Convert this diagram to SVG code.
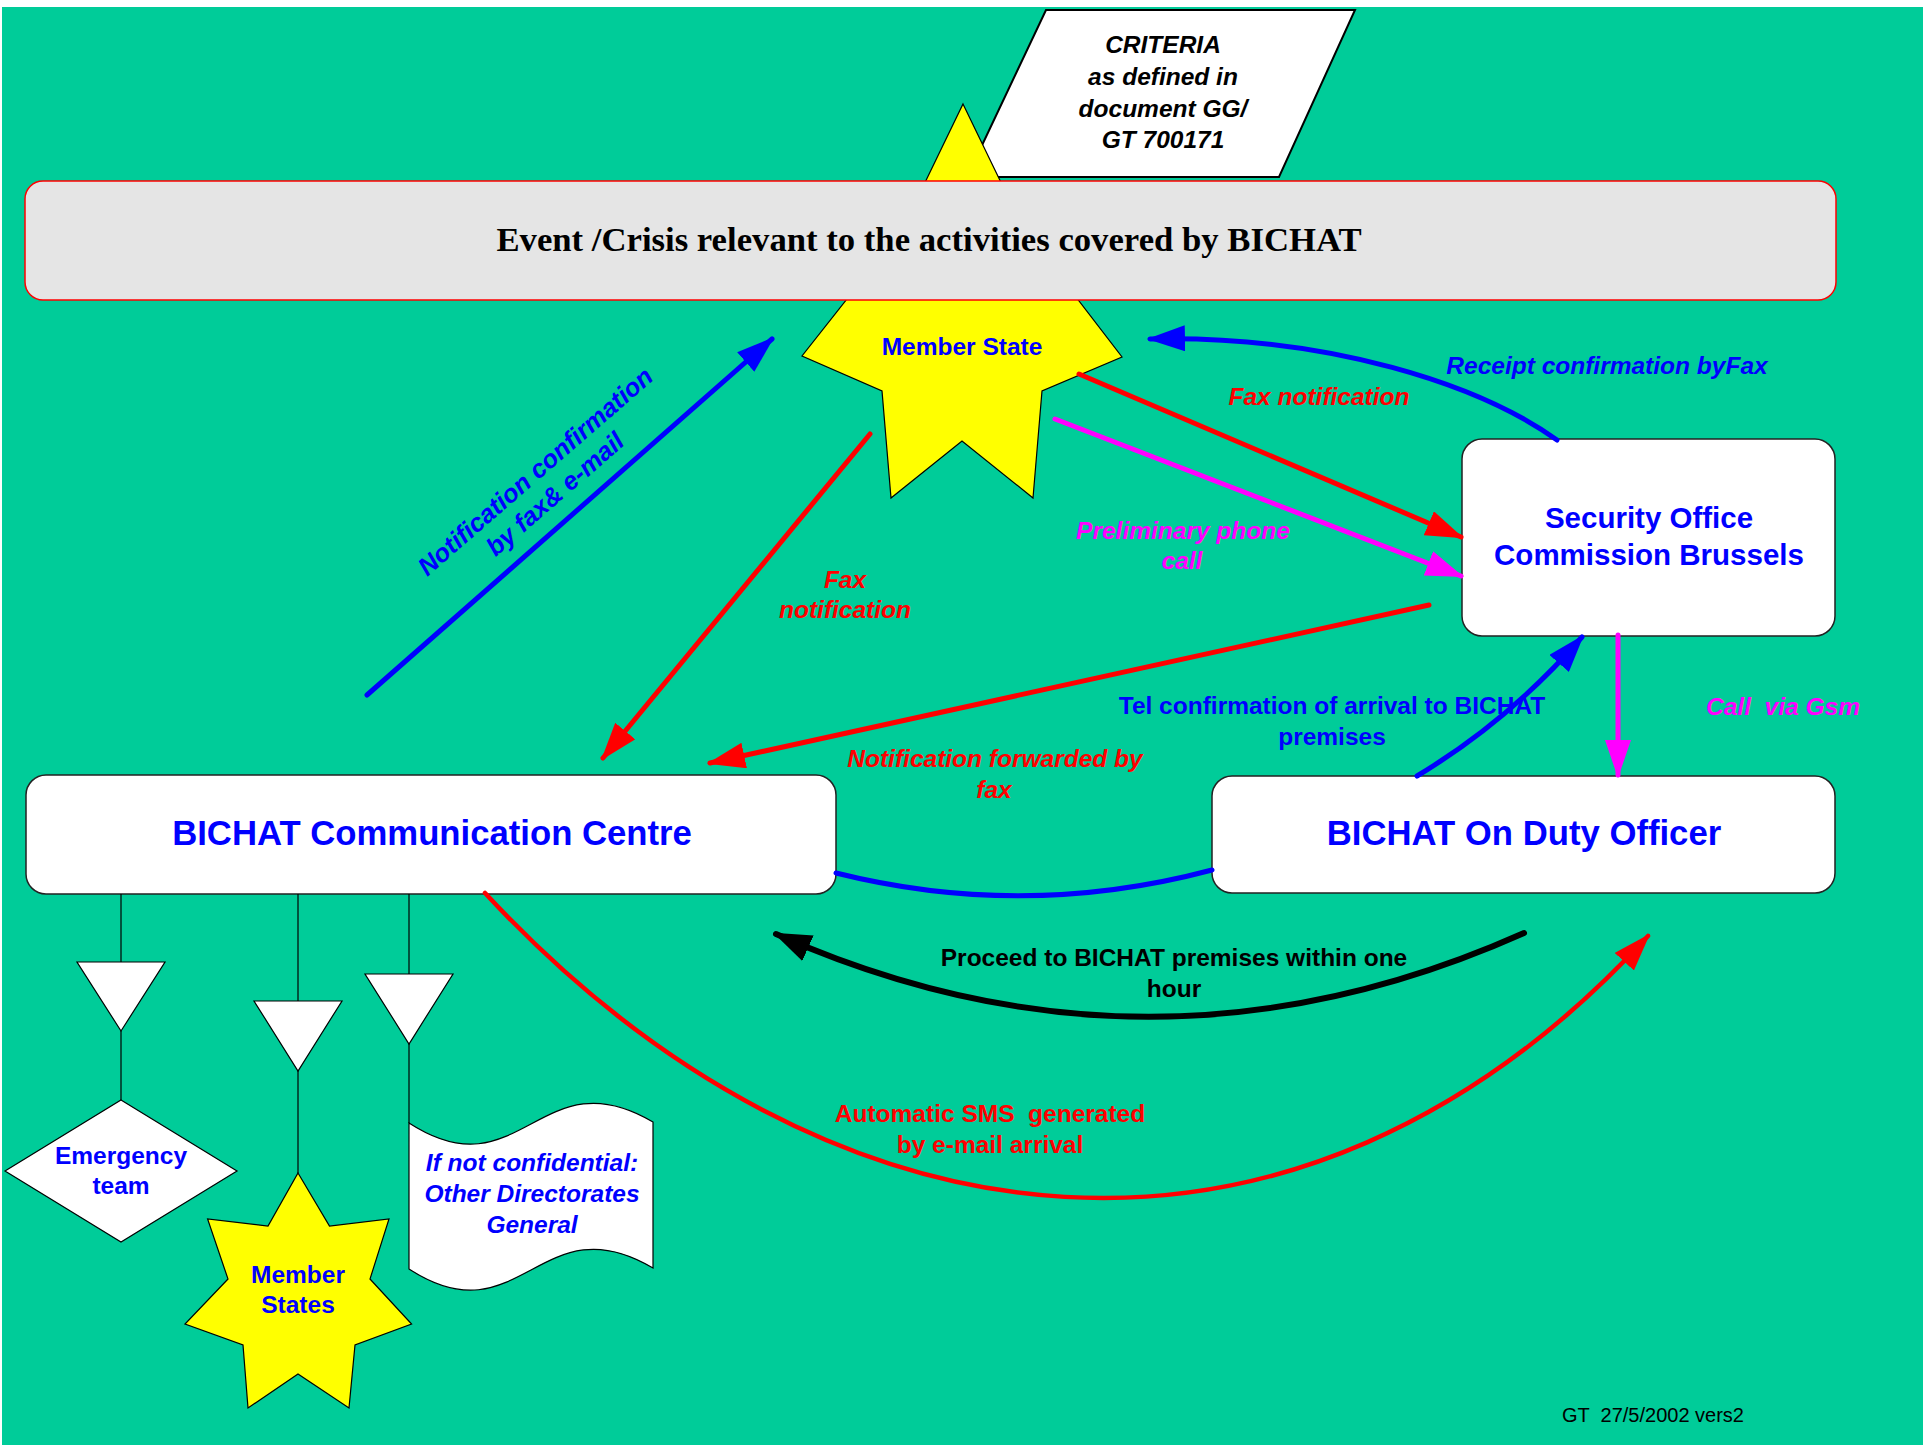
<svg xmlns="http://www.w3.org/2000/svg" width="1923" height="1445" viewBox="0 0 1923 1445">
<style>
.bg{fill:#00cc99}
.node{fill:#ffffff;stroke:#222222;stroke-width:1.5}
.star{fill:#ffff00;stroke:#000000;stroke-width:1.2}
.thin{fill:#ffffff;stroke:#000000;stroke-width:1.2}
.tline{stroke:#000000;stroke-width:1.2;fill:none}
.lbl{font-family:"Liberation Sans",Arial,Helvetica,sans-serif;font-weight:bold;font-size:24.5px;text-anchor:middle}
.big{font-size:34.7px}
.mid{font-size:29.5px}
.it{font-style:italic}
.blue{fill:#0000ff}
.red{fill:#ff0000}
.mag{fill:#ff00ff}
.blk{fill:#000000}
.conn{fill:none;stroke-width:5;stroke-linecap:round}
.cb{stroke:#0000ff}
.cr{stroke:#ff0000}
.cm{stroke:#ff00ff}
.ck{stroke:#000000;stroke-width:6}
.foot{font-family:"Liberation Sans",Arial,Helvetica,sans-serif;font-size:20px;fill:#000000}
</style>
<defs>
<marker id="ab" markerUnits="userSpaceOnUse" markerWidth="38" markerHeight="26" viewBox="0 0 38 26" refX="35" refY="13" orient="auto"><path d="M0,0 L38,13 L0,26 z" fill="#0000ff"/></marker>
<marker id="ar" markerUnits="userSpaceOnUse" markerWidth="38" markerHeight="26" viewBox="0 0 38 26" refX="35" refY="13" orient="auto"><path d="M0,0 L38,13 L0,26 z" fill="#ff0000"/></marker>
<marker id="am" markerUnits="userSpaceOnUse" markerWidth="38" markerHeight="26" viewBox="0 0 38 26" refX="35" refY="13" orient="auto"><path d="M0,0 L38,13 L0,26 z" fill="#ff00ff"/></marker>
<marker id="ak" markerUnits="userSpaceOnUse" markerWidth="38" markerHeight="28" viewBox="0 0 38 28" refX="35" refY="14" orient="auto"><path d="M0,0 L38,14 L0,28 z" fill="#000000"/></marker>
</defs>
<rect x="0" y="0" width="1923" height="1445" fill="#ffffff"/>
<rect class="bg" x="2" y="7" width="1921" height="1438"/>

<g id="criteria">
<polygon points="1046,10 1355,10 1279,177 967,177" fill="#ffffff" stroke="#000000" stroke-width="2"/>
<text class="lbl it blk" x="1163" y="53">CRITERIA</text>
<text class="lbl it blk" x="1163" y="85">as defined in</text>
<text class="lbl it blk" x="1163" y="117">document GG/</text>
<text class="lbl it blk" x="1163" y="148">GT 700171</text>
</g>

<g id="member-state">
<polygon class="star" points="963,104 1023,228 1122,357 1042,391 1033,498 962,441 891,498 882,391 802,356 903,228"/>
<text class="lbl blue" x="962" y="355">Member State</text>
</g>

<g id="event">
<rect x="25" y="181" width="1811" height="119" rx="18" ry="18" fill="#e5e5e5" stroke="#ff0000" stroke-width="1.5"/>
<text x="929" y="251" font-family="'Liberation Serif','Times New Roman',serif" font-weight="bold" font-size="34.7" text-anchor="middle" fill="#000000">Event /Crisis relevant to the activities covered by BICHAT</text>
</g>

<g id="security-office">
<rect class="node" x="1462" y="439" width="373" height="197" rx="20" ry="20"/>
<text class="lbl mid blue" x="1649" y="528">Security Office</text>
<text class="lbl mid blue" x="1649" y="565">Commission Brussels</text>
</g>

<g id="comm-centre">
<rect class="node" x="26" y="775" width="810" height="119" rx="20" ry="20"/>
<text class="lbl big blue" x="432" y="845">BICHAT Communication Centre</text>
</g>

<g id="duty-officer">
<rect class="node" x="1212" y="776" width="623" height="117" rx="20" ry="20"/>
<text class="lbl big blue" x="1524" y="845">BICHAT On Duty Officer</text>
</g>

<g id="tree-lines">
<line class="tline" x1="121" y1="894" x2="121" y2="962"/>
<line class="tline" x1="121" y1="1031" x2="121" y2="1100"/>
<line class="tline" x1="298" y1="894" x2="298" y2="1001"/>
<line class="tline" x1="298" y1="1071" x2="298" y2="1173"/>
<line class="tline" x1="409" y1="894" x2="409" y2="974"/>
<line class="tline" x1="409" y1="1044" x2="409" y2="1123"/>
</g>

<g id="merge-1"><polygon class="thin" points="77,962 165,962 121,1031"/></g>
<g id="merge-2"><polygon class="thin" points="254,1001 342,1001 298,1071"/></g>
<g id="merge-3"><polygon class="thin" points="365,974 453,974 409,1044"/></g>

<g id="emergency-team">
<polygon class="thin" points="121,1100 237,1171 121,1242 5,1171"/>
<text class="lbl blue" x="121" y="1164">Emergency</text>
<text class="lbl blue" x="121" y="1194">team</text>
</g>

<g id="member-states">
<polygon class="star" points="298,1173 329.5,1226 389,1219 370,1279 411.6,1324 355,1345 349,1408 298,1374 248,1408 243,1345 185,1324 228,1279 207.6,1219 268,1226"/>
<text class="lbl blue" x="298" y="1283">Member</text>
<text class="lbl blue" x="298" y="1313">States</text>
</g>

<g id="other-dg">
<path class="thin" d="M409,1123 C520,1195 540,1055 653,1122 L653,1268 C540,1201 520,1341 409,1269 Z"/>
<text class="lbl it blue" x="532" y="1171">If not confidential:</text>
<text class="lbl it blue" x="532" y="1202">Other Directorates</text>
<text class="lbl it blue" x="532" y="1233">General</text>
</g>

<g id="connectors">
<path class="conn cb" d="M367,695 L772,339" marker-end="url(#ab)"/>
<path class="conn cr" d="M1079,374 L1461,537" marker-end="url(#ar)"/>
<path class="conn cm" d="M1055,419 L1461,576" marker-end="url(#am)"/>
<path class="conn cr" d="M870,434 L603,758" marker-end="url(#ar)"/>
<path class="conn cr" d="M1429,605 L710,763" marker-end="url(#ar)"/>
<path class="conn cb" d="M1557,440 C1480,385 1330,335 1150,339" marker-end="url(#ab)"/>
<path class="conn cb" d="M1417,776 Q1510,720 1582,637" marker-end="url(#ab)"/>
<path class="conn cm" d="M1618,635 L1618,775" marker-end="url(#am)"/>
<path class="conn cb" d="M836,873 Q1024,920 1212,870"/>
<path class="conn ck" d="M1524,933 Q1150,1100 776,934" marker-end="url(#ak)"/>
<path class="conn cr" style="stroke-width:4.5" d="M485,893 C830,1265 1298,1317 1648,936" marker-end="url(#ar)"/>
</g>

<g id="connector-labels">
<g transform="translate(541,478) rotate(-41)">
<text class="lbl it blue" style="font-size:25.5px" x="0" y="0">Notification confirmation</text>
<text class="lbl it blue" style="font-size:25.5px" x="0" y="30">by fax&amp; e-mail</text>
</g>
<text class="lbl it red" x="1319" y="405">Fax notification</text>
<text class="lbl it mag" x="1183" y="539">Preliminary phone</text>
<text class="lbl it mag" x="1182" y="569">call</text>
<text class="lbl it red" x="845" y="588">Fax</text>
<text class="lbl it red" x="845" y="618">notification</text>
<text class="lbl it red" x="995" y="767">Notification forwarded by</text>
<text class="lbl it red" x="994" y="798">fax</text>
<text class="lbl it blue" x="1607" y="374">Receipt confirmation byFax</text>
<text class="lbl blue" x="1332" y="714">Tel confirmation of arrival to BICHAT</text>
<text class="lbl blue" x="1332" y="745">premises</text>
<text class="lbl it mag" x="1783" y="715" xml:space="preserve">Call  via Gsm</text>
<text class="lbl blk" x="1174" y="966">Proceed to BICHAT premises within one</text>
<text class="lbl blk" x="1174" y="997">hour</text>
<text class="lbl red" x="990" y="1122" xml:space="preserve">Automatic SMS  generated</text>
<text class="lbl red" x="990" y="1153">by e-mail arrival</text>
</g>

<text class="foot" x="1562" y="1422" xml:space="preserve">GT  27/5/2002 vers2</text>
</svg>
